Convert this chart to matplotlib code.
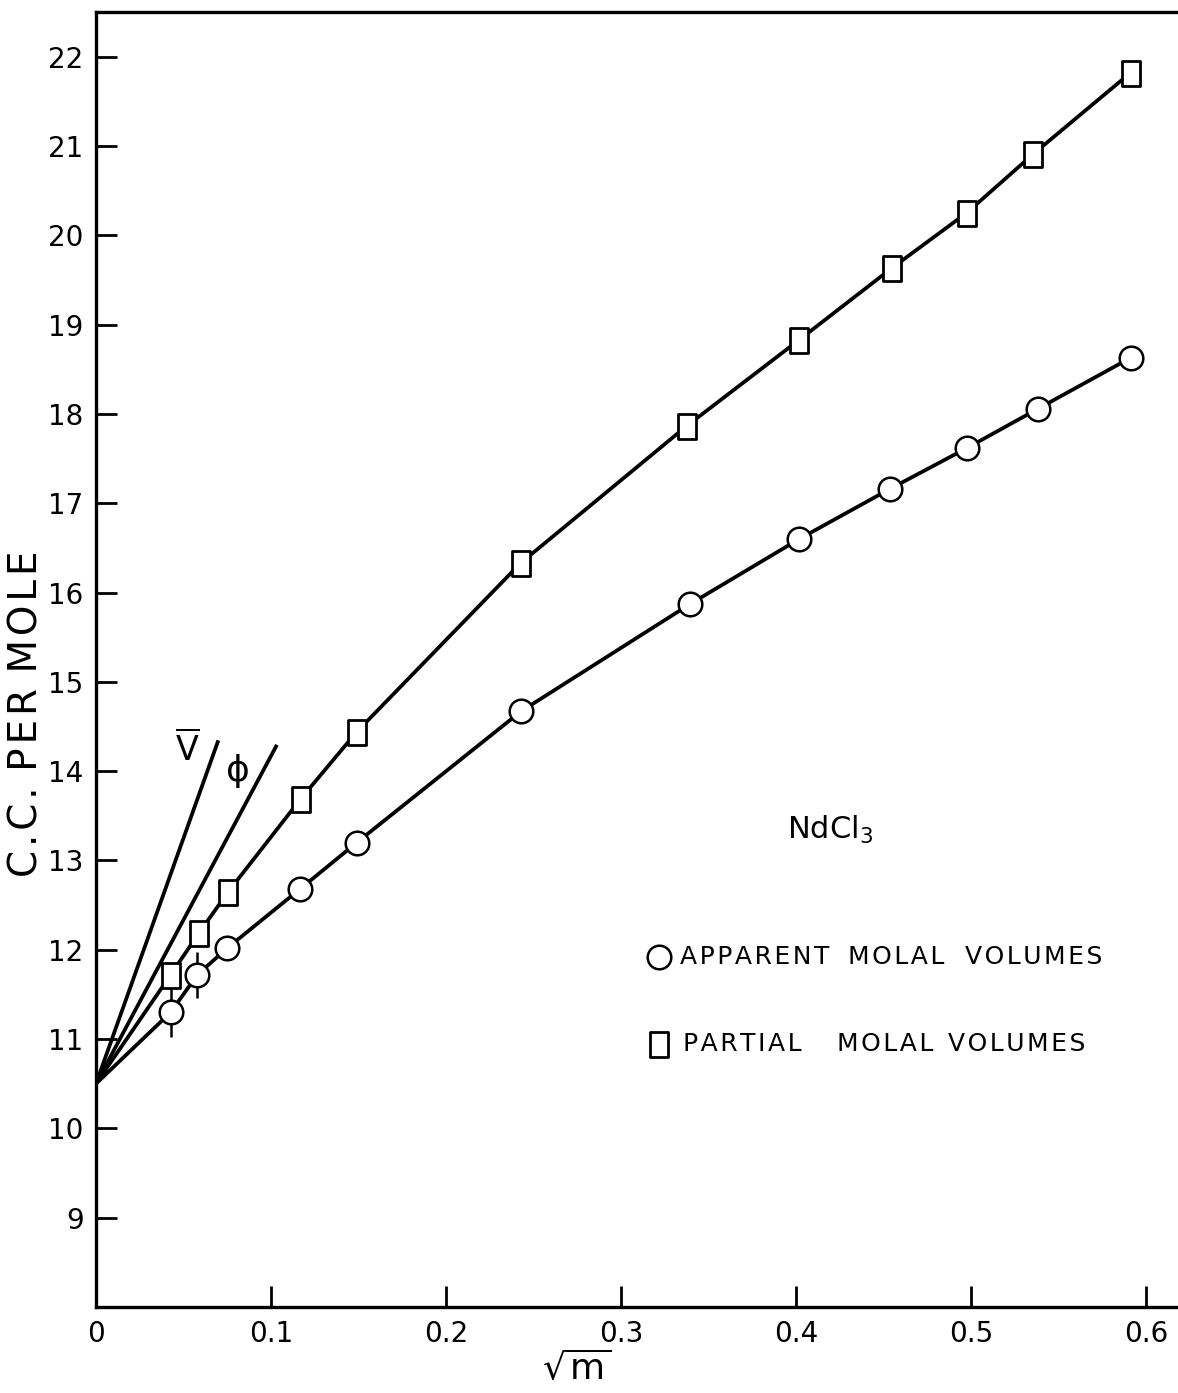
import matplotlib
matplotlib.use("Agg")
import matplotlib.pyplot as plt
import numpy as np
from matplotlib.path import Path

# NdCl3 volumes vs sqrt(m)
partial_x = [0.0427, 0.0589, 0.0756, 0.117, 0.149, 0.2427, 0.3379, 0.4019, 0.4546, 0.4975, 0.5356, 0.5912]
partial_v = [11.72, 12.19, 12.65, 13.69, 14.44, 16.33, 17.87, 18.83, 19.63, 20.25, 20.91, 21.82]

apparent_x = [0.0427, 0.0579, 0.0751, 0.1166, 0.149, 0.2429, 0.3394, 0.4019, 0.4537, 0.4979, 0.5385, 0.5914]
apparent_v = [11.30, 11.72, 12.02, 12.68, 13.20, 14.67, 15.87, 16.60, 17.16, 17.62, 18.06, 18.63]
apparent_err = [0.28, 0.26]   # only the two most dilute points carry bars

# limiting slopes from the common intercept
v0 = 10.5
vbar_slope, vbar_xend = 55.0, 0.0699
phi_slope, phi_xend = 36.7, 0.1034

xticks = [0, 0.1, 0.2, 0.3, 0.4, 0.5, 0.6]
xticklabels = ["0", "0.1", "0.2", "0.3", "0.4", "0.5", "0.6"]
yticks = list(range(9, 23))

plt.rcParams['font.family'] = ['DejaVu Sans']
plt.rcParams['mathtext.fontset'] = 'dejavusans'


def spaced(word):
    # open up the lettering a little
    return "\u200a".join(word)


fig = plt.figure(figsize=(11.78, 13.93), dpi=100)
ax = fig.add_axes([96 / 1178, 1 - 1307 / 1393, 1 - 96 / 1178, (1307 - 12) / 1393])
ax.set_xlim(0, 0.6183)
ax.set_ylim(8.0, 22.5)

# tall rectangle marker for partial molal volumes
rect = Path([(-0.36, -0.5), (0.36, -0.5), (0.36, 0.5), (-0.36, 0.5), (-0.36, -0.5)],
            [Path.MOVETO, Path.LINETO, Path.LINETO, Path.LINETO, Path.CLOSEPOLY])

lw = 2.7
ax.plot([0, vbar_xend], [v0, v0 + vbar_slope * vbar_xend], color='k', lw=lw, solid_capstyle='butt')
ax.plot([0, phi_xend], [v0, v0 + phi_slope * phi_xend], color='k', lw=lw, solid_capstyle='butt')

ax.plot([0] + partial_x, [v0] + partial_v, color='k', lw=lw, zorder=2)
ax.plot([0] + apparent_x, [v0] + apparent_v, color='k', lw=lw, zorder=2)

ax.errorbar(apparent_x[:2], apparent_v[:2], yerr=apparent_err, fmt='none',
            ecolor='k', elinewidth=1.8, capsize=0, zorder=2)

ax.plot(partial_x, partial_v, linestyle='none', marker=rect, markersize=18,
        markerfacecolor='white', markeredgecolor='k', markeredgewidth=2.0, zorder=3)
ax.plot(apparent_x, apparent_v, linestyle='none', marker='o', markersize=17,
        markerfacecolor='white', markeredgecolor='k', markeredgewidth=1.8, zorder=3)

# curve labels
ax.text(0.0525, 14.25, r"$\overline{\mathrm{V}}$", fontsize=24, ha='center', va='center')
ax.text(0.0811, 14.00, "\u03d5", fontsize=26, ha='center', va='center')

ax.text(0.4195, 13.34, r"NdCl$_3$", fontsize=22, ha='center', va='center')

# key
key_y = [11.92, 10.94]
ax.plot([0.3217], [key_y[0]], linestyle='none', marker='o', markersize=17,
        markerfacecolor='white', markeredgecolor='k', markeredgewidth=1.8)
ax.plot([0.3217], [key_y[1]], linestyle='none', marker=rect, markersize=18,
        markerfacecolor='white', markeredgecolor='k', markeredgewidth=2.0)
for word, px in [("APPARENT", 680), ("MOLAL", 848), ("VOLUMES", 965)]:
    ax.text((px - 96) / 1750, key_y[0], spaced(word), fontsize=18, ha='left', va='center')
for word, px in [("PARTIAL", 683), ("MOLAL", 837), ("VOLUMES", 948)]:
    ax.text((px - 96) / 1750, key_y[1], spaced(word), fontsize=18, ha='left', va='center')

# axes styling
for side in ['left', 'bottom', 'top']:
    ax.spines[side].set_linewidth(2.4)
ax.spines['right'].set_visible(False)

ax.set_xticks(xticks)
ax.set_xticklabels(xticklabels)
ax.set_yticks(yticks)
ax.tick_params(axis='both', direction='in', length=15, width=2.0, labelsize=20, pad=9)
ax.tick_params(axis='x', bottom=True, top=False)
ax.tick_params(axis='y', left=True, right=False)

ylabel = "\u2009".join(["C.C.", "PER", "MOLE"]).replace("", "\u200a").strip("\u200a")
fig.text(27 / 1178, 1 - 714 / 1393, ylabel, rotation=90, fontsize=28,
         ha='center', va='center')
fig.text(577 / 1178, 1 - 1368 / 1393, r"$\sqrt{\mathrm{m}}$", fontsize=26,
         ha='center', va='center')

fig.savefig("out.png", dpi=100)
